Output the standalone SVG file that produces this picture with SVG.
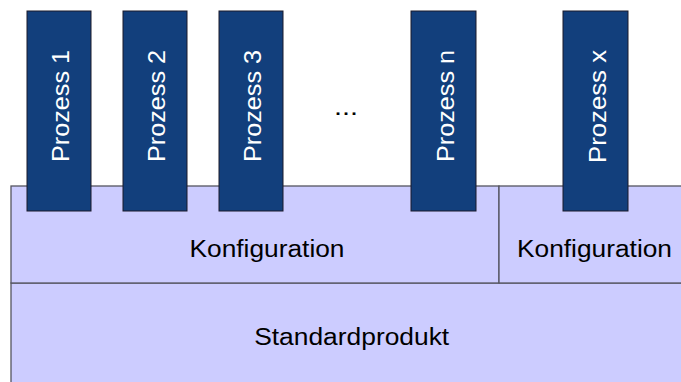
<svg xmlns="http://www.w3.org/2000/svg" width="681" height="382" viewBox="0 0 681 382">
  <style>
    .band { fill: #ccccff; stroke: #555560; stroke-width: 1.3; }
    .proc { fill: #123f7c; stroke: #1a1a2a; stroke-width: 1; }
    .lbl { font-family: "Liberation Sans", Arial, sans-serif; font-size: 23px; fill: #000000; text-anchor: middle; }
    .plbl { font-family: "Liberation Sans", Arial, sans-serif; font-size: 23px; fill: #ffffff; text-anchor: middle; }
  </style>
  <rect width="681" height="382" fill="#ffffff"/>

  <!-- base layer -->
  <g id="standardprodukt">
    <rect class="band" x="11" y="283" width="690" height="110"/>
    <text class="lbl" x="351.7" y="345" textLength="195" lengthAdjust="spacingAndGlyphs">Standardprodukt</text>
  </g>

  <!-- configuration layer -->
  <g id="konfiguration-1">
    <rect class="band" x="11" y="186" width="488" height="97"/>
    <text class="lbl" x="267" y="257" textLength="155" lengthAdjust="spacingAndGlyphs">Konfiguration</text>
  </g>
  <g id="konfiguration-2">
    <rect class="band" x="499" y="186" width="200" height="97"/>
    <text class="lbl" x="594.5" y="257" textLength="155" lengthAdjust="spacingAndGlyphs">Konfiguration</text>
  </g>

  <!-- process columns -->
  <g id="prozess-1">
    <rect class="proc" x="27" y="11" width="64" height="200"/>
    <text class="plbl" transform="translate(69.3,106) rotate(-90)" textLength="112" lengthAdjust="spacingAndGlyphs">Prozess 1</text>
  </g>
  <g id="prozess-2">
    <rect class="proc" x="123" y="11" width="64" height="200"/>
    <text class="plbl" transform="translate(165.3,106) rotate(-90)" textLength="112" lengthAdjust="spacingAndGlyphs">Prozess 2</text>
  </g>
  <g id="prozess-3">
    <rect class="proc" x="219" y="11" width="64" height="200"/>
    <text class="plbl" transform="translate(261.3,106) rotate(-90)" textLength="112" lengthAdjust="spacingAndGlyphs">Prozess 3</text>
  </g>
  <g id="ellipsis">
    <text class="lbl" x="346" y="115" textLength="24" lengthAdjust="spacingAndGlyphs">...</text>
  </g>
  <g id="prozess-n">
    <rect class="proc" x="411" y="11" width="65" height="200"/>
    <text class="plbl" transform="translate(454,106) rotate(-90)" textLength="112" lengthAdjust="spacingAndGlyphs">Prozess n</text>
  </g>
  <g id="prozess-x">
    <rect class="proc" x="563" y="11" width="65" height="200"/>
    <text class="plbl" transform="translate(605.5,106.5) rotate(-90)" textLength="113" lengthAdjust="spacingAndGlyphs">Prozess x</text>
  </g>

  <!-- no connectors in this diagram -->
  <g id="connectors"/>
</svg>
